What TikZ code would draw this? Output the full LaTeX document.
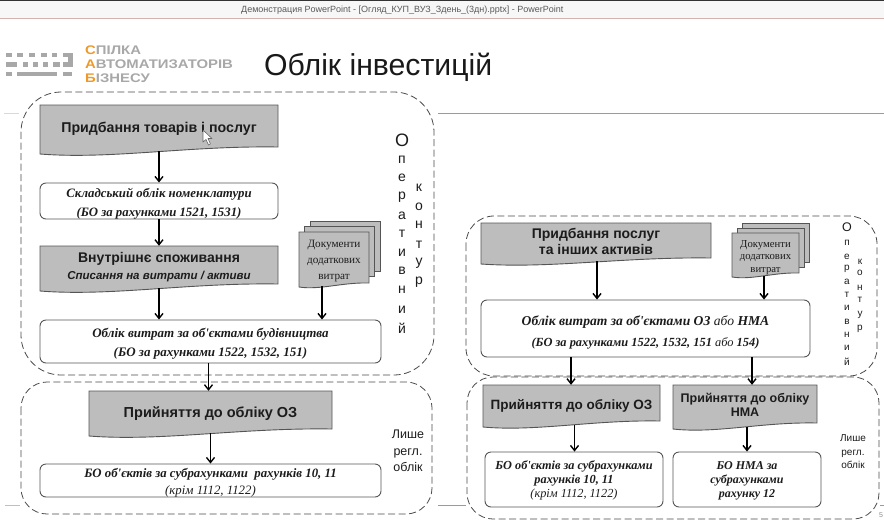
\documentclass[tikz,border=0pt]{standalone}
\usepackage{fontspec}
\setmainfont{Liberation Sans}
\newfontfamily\serifx{Liberation Serif}
\usetikzlibrary{arrows.meta,calc,positioning}
\definecolor{waveg}{HTML}{BDBDBD}
\definecolor{edgeg}{HTML}{555555}
\definecolor{inkx}{HTML}{1C1C1C}
\definecolor{logog}{HTML}{A8A8A8}
\definecolor{logoo}{HTML}{EE9A2B}
\definecolor{rulex}{HTML}{9A9A9A}
\tikzset{
 sheet/.style={draw=edgeg,line width=0.9pt,fill=waveg},
 wavetext/.style={inner sep=0pt,align=center,text=inkx},
 roundbox/.style={draw=edgeg,line width=0.9pt,fill=white,rounded corners=6pt,inner sep=0pt,align=center,text=inkx},
 arr/.style={draw=black,line width=1.5pt,-{Straight Barb[length=5pt,width=8pt,line width=1.4pt]}},
 dashframe/.style={draw=black!70,line width=0.8pt,dash pattern=on 7pt off 3.5pt},
 sidetext/.style={inner sep=0pt,text=inkx},
 logobar/.style={fill=logog,draw=none},
 logotext/.style={inner sep=0pt,anchor=west,text=logog,font=\bfseries\fontsize{12.5}{14}\selectfont}
}
\newcommand{\dn}[2]{\raisebox{-#1pt}[\height][\depth]{#2}}
% wave-bottom box: name, x1, y1, x2, yr (bottom right), depth, font, text
\newcommand{\wavenode}[8]{%
 \pgfmathsetmacro{\wvA}{#2+0.3*(#4-#2)}%
 \pgfmathsetmacro{\wvB}{#2+0.62*(#4-#2)}%
 \pgfmathsetmacro{\wvL}{#5+#6}%
 \pgfmathsetmacro{\wvC}{#5+1.8*#6}%
 \pgfmathsetmacro{\wvD}{#5-0.2*#6}%
 \path[sheet] (#2,#3) -- (#4,#3) -- (#4,#5) .. controls (\wvB,\wvD) and (\wvA,\wvC) .. (#2,\wvL) -- cycle;
 \node[wavetext,font=#7,minimum width={#4-#2},minimum height={#5-#3}] (#1) at ({(#2+#4)/2},{(#3+#5)/2}) {#8};
}
% rounded box: name, x1, y1, x2, y2, font, text
\newcommand{\boxnode}[7]{%
 \node[roundbox,font=\serifx\bfseries\itshape#6,minimum width={#4-#2},minimum height={#5-#3}] (#1) at ({(#2+#4)/2},{(#3+#5)/2}) {#7};
}
% stacked documents: name, x1, y1, w, h, step, font, text
\newcommand{\docnode}[8]{%
 \pgfmathsetmacro{\dcX}{#2+2*#6}\pgfmathsetmacro{\dcY}{#3-2*#6}%
 \pgfmathsetmacro{\dcR}{\dcX+#4}\pgfmathsetmacro{\dcB}{\dcY+#5-6}%
 \path[sheet] (\dcX,\dcY) rectangle (\dcR,\dcB);
 \pgfmathsetmacro{\dcX}{#2+#6}\pgfmathsetmacro{\dcY}{#3-#6}%
 \pgfmathsetmacro{\dcR}{\dcX+#4}\pgfmathsetmacro{\dcB}{\dcY+#5-6}%
 \path[sheet] (\dcX,\dcY) rectangle (\dcR,\dcB);
 \pgfmathsetmacro{\dcR}{#2+#4}\pgfmathsetmacro{\dcB}{#3+#5-5}%
 \wavenode{#1}{#2}{#3}{\dcR}{\dcB}{4}{\serifx\color{black!70}#7}{#8}
}
\newcommand{\vtext}[3]{% x, font size, list of y/letter
 \foreach \yy/\lt in {#3} {\node[sidetext,font=\fontsize{#2}{#2}\selectfont] at (#1,\yy) {\lt};}
}
\begin{document}
\begin{tikzpicture}[x=1pt,y=-1pt]
\useasboundingbox (0,0) rectangle (884,520);
\fill[white] (0,0) rectangle (884,520);
% window bar
\fill[black!80] (0,0) rectangle (884,1);
\fill[black!3] (0,1) rectangle (884,18);
\draw[color=red!45!black!30,line width=0.8pt] (0,18) -- (884,18);
\node[inner sep=0pt,text=black!65,font=\fontsize{9}{10}\selectfont,anchor=west] (wintitle) at (241,10) {Демонстрация PowerPoint - [Огляд\_КУП\_ВУЗ\_Здень\_(3дн).pptx] - PowerPoint};
% slide rules
\draw[rulex,line width=0.8pt] (438,113) -- (884,113);
\draw[black!15,line width=0.8pt] (4,113) -- (19,113);
\draw[black!25,line width=0.8pt] (5,505) -- (20,505);
\draw[rulex,line width=0.8pt] (438,505) -- (466,505);
\draw[rulex,line width=0.8pt] (880,505) -- (884,505);
% logo
\foreach \xa/\xb/\ya in {6/12/52.5,17/23/52.5,29/35/52.5,41/47/52.5,52/57/52.5,63/72/52.5,6/17/62,23/28/62,33/38/62,43/48/62,53/60/62,63/72/62,6/12/71.5,17/57/71.5,63/72/71.5}{
 \fill[logobar] (\xa,\ya) rectangle (\xb,\ya+4.5);}
\fill[logobar] (68,52.5) rectangle (73,66.5);
\node[logotext] (logoa) at (85,50.5) {\scalebox{1.19}[1]{\textcolor{logoo}{С}ПІЛКА}};
\node[logotext] (logob) at (85,64.5) {\scalebox{1.19}[1]{\textcolor{logoo}{А}ВТОМАТИЗАТОРІВ}};
\node[logotext] (logoc) at (85,78.5) {\scalebox{1.19}[1]{\textcolor{logoo}{Б}ІЗНЕСУ}};
\node[inner sep=0pt,anchor=west,text=black!90,font=\fontsize{30.2}{32}\selectfont] (title) at (264,67.5) {Облік інвестицій};
% frames
\draw[dashframe,rounded corners=40pt] (21,92) rectangle (434,375);
\draw[dashframe,rounded corners=26pt] (21,382) rectangle (432,514);
\draw[dashframe,rounded corners=28pt] (466,216) rectangle (877,376);
\draw[dashframe,rounded corners=26pt] (467,377) rectangle (879,519);
% left column
\wavenode{buy}{40}{105}{278}{147}{7}{\bfseries\fontsize{14.2}{16}\selectfont}{\dn{3}{Придбання товарів і послуг}}
\boxnode{stock}{40}{183}{278}{219}{\fontsize{12.8}{19}\selectfont}{\dn{3}{Складський облік номенклатури}\\\dn{3}{(БО за рахунками 1521, 1531)}}
\wavenode{use}{40}{246}{278}{284}{7}{\bfseries\fontsize{14}{17}\selectfont}{\dn{2.5}{Внутрішнє споживання}\\\dn{2.5}{\fontsize{11.5}{14}\selectfont\itshape Списання на витрати / активи}}
\docnode{docsa}{299}{232}{70}{56}{5.5}{\fontsize{11.2}{16}\selectfont}{\dn{4}{Документи}\\\dn{4}{додаткових}\\\dn{4}{витрат}}
\boxnode{costs}{40}{320}{381}{363}{\fontsize{13}{19}\selectfont}{\dn{2.5}{Облік витрат за об'єктами будівництва}\\\dn{2.5}{(БО за рахунками 1522, 1532, 151)}}
\wavenode{accept}{89}{391}{332}{429}{7}{\bfseries\fontsize{14.5}{16}\selectfont}{\dn{4}{Прийняття до обліку ОЗ}}
\boxnode{assets}{40}{464}{381}{497}{\fontsize{12.8}{17}\selectfont}{\dn{2.5}{БО об'єктів за субрахунками\ \ рахунків 10, 11}\\\dn{2.5}{\mdseries (крім 1112, 1122)}}
\draw[arr] (buy.south) ++(0,4) -- (buy.south |- stock.north);
\draw[arr] (stock.south) -- (stock.south |- use.north);
\draw[arr] (use.south) ++(0,4) -- (use.south |- costs.north);
\draw[arr] ([xshift=-12pt]docsa.south) ++(0,3) -- ([xshift=-12pt]docsa.south |- costs.north);
\draw[arr] ([xshift=-2pt]costs.south) -- ([xshift=-2pt]costs.south |- accept.north);
\draw[arr] (accept.south) ++(0,4) -- (accept.south |- assets.north);
% right column
\wavenode{buyb}{481}{223}{711}{258}{6}{\bfseries\fontsize{14}{15.5}\selectfont}{\dn{1}{Придбання послуг}\\\dn{1}{та інших активів}}
\docnode{docsb}{732}{233}{67}{45}{5}{\fontsize{10.7}{12.7}\selectfont}{\dn{4.5}{Документи}\\\dn{4.5}{додаткових}\\\dn{4.5}{витрат}}
\boxnode{costsb}{481}{300}{810}{357}{\fontsize{13.6}{21}\selectfont}{\dn{4}{Облік витрат за об'єктами ОЗ {\mdseries або} НМА}\\\dn{4}{\fontsize{12.4}{18}\selectfont (БО за рахунками 1522, 1532, 151 {\mdseries або} 154)}}
\wavenode{accepta}{483}{385}{660}{421}{6}{\bfseries\fontsize{13.5}{16}\selectfont}{\dn{3}{Прийняття до обліку ОЗ}}
\wavenode{acceptb}{673}{385}{817}{423}{6}{\bfseries\fontsize{12.5}{14.5}\selectfont}{\dn{1}{Прийняття до обліку}\\\dn{1}{НМА}}
\boxnode{assetsa}{485}{452}{663}{507}{\fontsize{12.3}{14}\selectfont}{\dn{1}{БО об'єктів за субрахунками}\\\dn{1}{рахунків 10, 11}\\\dn{1}{\mdseries (крім 1112, 1122)}}
\boxnode{assetsb}{673}{452}{821}{507}{\fontsize{12}{14}\selectfont}{\dn{1}{БО НМА за}\\\dn{1}{субрахунками}\\\dn{1}{рахунку 12}}
\draw[arr] ([xshift=1pt]buyb.south) ++(0,3) -- ([xshift=1pt]buyb.south |- costsb.north);
\draw[arr] ([xshift=-1.5pt]docsb.south) ++(0,3) -- ([xshift=-1.5pt]docsb.south |- costsb.north);
\coordinate (ca) at (571,357);
\coordinate (cb) at (752,357);
\draw[arr] (ca) -- (ca |- accepta.north);
\draw[arr] (cb) -- (cb |- acceptb.north);
\draw[arr] ([xshift=3pt]accepta.south) ++(0,4) -- ([xshift=3pt]accepta.south |- assetsa.north);
\draw[arr] ([xshift=2pt]acceptb.south) ++(0,4) -- ([xshift=2pt]acceptb.south |- assetsb.north);
% side captions
\node[sidetext,font=\fontsize{18}{18}\selectfont] (oa) at (402,140) {О};
\vtext{402}{14}{160/п,178/е,197/р,216/а,234/т,253/и,271/в,290/н,310/и,328/й}
\vtext{419}{14}{188/к,207/о,225/н,245/т,263/у,282/р}
\node[sidetext,align=center,font=\fontsize{12.5}{16.5}\selectfont] (onlya) at (408,451) {Лише\\регл.\\облік};
\node[sidetext,font=\fontsize{12.5}{12.5}\selectfont] (ob) at (847,227) {О};
\vtext{847}{10}{243/п,257/е,269/р,282/а,295/т,308/и,322/в,335/н,348/и,362/й}
\vtext{860}{10}{262/к,273/о,288/н,300/т,315/у,329/р}
\node[sidetext,align=center,font=\fontsize{10}{13.5}\selectfont] (onlyb) at (853,452) {Лише\\регл.\\облік};
\node[inner sep=0pt,text=black!45,font=\fontsize{7}{8}\selectfont] (pageno) at (881,515) {5};
% cursor
\draw[black!60,fill=white,line width=0.6pt,line join=round] (203,130) -- (203,142) -- (206,139.5) -- (208.5,145) -- (210.5,144) -- (208,138.5) -- (212,138.5) -- cycle;
\end{tikzpicture}
\end{document}
